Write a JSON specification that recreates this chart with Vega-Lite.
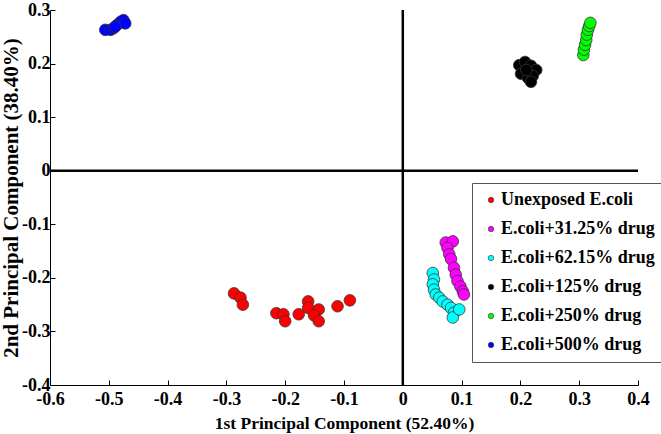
{
  "$schema": "https://vega.github.io/schema/vega-lite/v6.json",
  "width": 588,
  "height": 375,
  "autosize": {"type": "none"},
  "padding": {"left": 50, "top": 10, "right": 23, "bottom": 49},
  "background": "white",
  "config": {
    "view": {"stroke": null},
    "locale": {"number": {"decimal": ".", "thousands": ",", "grouping": [3], "currency": ["$", ""], "minus": "-"}},
    "axis": {
      "grid": false,
      "domainColor": "black",
      "domainWidth": 1,
      "tickColor": "black",
      "tickSize": -5,
      "labelFont": "Liberation Serif",
      "labelFontWeight": "bold",
      "labelFontSize": 18,
      "labelColor": "black",
      "labelOverlap": false,
      "labelBound": false,
      "labelFlush": false,
      "titleFont": "Liberation Serif",
      "titleFontWeight": "bold",
      "titleColor": "black"
    },
    "legend": {
      "labelFont": "Liberation Serif",
      "labelFontWeight": "bold",
      "labelFontSize": 18,
      "labelColor": "black"
    }
  },
  "data": {
    "values": [
      {"x": -0.287, "y": -0.229, "group": "Unexposed E.coli"},
      {"x": -0.276, "y": -0.237, "group": "Unexposed E.coli"},
      {"x": -0.272, "y": -0.250, "group": "Unexposed E.coli"},
      {"x": -0.215, "y": -0.266, "group": "Unexposed E.coli"},
      {"x": -0.203, "y": -0.268, "group": "Unexposed E.coli"},
      {"x": -0.200, "y": -0.281, "group": "Unexposed E.coli"},
      {"x": -0.177, "y": -0.268, "group": "Unexposed E.coli"},
      {"x": -0.161, "y": -0.244, "group": "Unexposed E.coli"},
      {"x": -0.161, "y": -0.256, "group": "Unexposed E.coli"},
      {"x": -0.143, "y": -0.259, "group": "Unexposed E.coli"},
      {"x": -0.151, "y": -0.270, "group": "Unexposed E.coli"},
      {"x": -0.143, "y": -0.281, "group": "Unexposed E.coli"},
      {"x": -0.111, "y": -0.253, "group": "Unexposed E.coli"},
      {"x": -0.090, "y": -0.242, "group": "Unexposed E.coli"},
      {"x": 0.073, "y": -0.134, "group": "E.coli+31.25% drug"},
      {"x": 0.085, "y": -0.132, "group": "E.coli+31.25% drug"},
      {"x": 0.076, "y": -0.144, "group": "E.coli+31.25% drug"},
      {"x": 0.079, "y": -0.156, "group": "E.coli+31.25% drug"},
      {"x": 0.082, "y": -0.165, "group": "E.coli+31.25% drug"},
      {"x": 0.087, "y": -0.181, "group": "E.coli+31.25% drug"},
      {"x": 0.090, "y": -0.194, "group": "E.coli+31.25% drug"},
      {"x": 0.093, "y": -0.206, "group": "E.coli+31.25% drug"},
      {"x": 0.098, "y": -0.216, "group": "E.coli+31.25% drug"},
      {"x": 0.102, "y": -0.225, "group": "E.coli+31.25% drug"},
      {"x": 0.104, "y": -0.231, "group": "E.coli+31.25% drug"},
      {"x": 0.051, "y": -0.191, "group": "E.coli+62.15% drug"},
      {"x": 0.053, "y": -0.203, "group": "E.coli+62.15% drug"},
      {"x": 0.051, "y": -0.212, "group": "E.coli+62.15% drug"},
      {"x": 0.053, "y": -0.222, "group": "E.coli+62.15% drug"},
      {"x": 0.056, "y": -0.231, "group": "E.coli+62.15% drug"},
      {"x": 0.062, "y": -0.237, "group": "E.coli+62.15% drug"},
      {"x": 0.068, "y": -0.244, "group": "E.coli+62.15% drug"},
      {"x": 0.076, "y": -0.250, "group": "E.coli+62.15% drug"},
      {"x": 0.082, "y": -0.256, "group": "E.coli+62.15% drug"},
      {"x": 0.087, "y": -0.265, "group": "E.coli+62.15% drug"},
      {"x": 0.085, "y": -0.274, "group": "E.coli+62.15% drug"},
      {"x": 0.096, "y": -0.259, "group": "E.coli+62.15% drug"},
      {"x": 0.198, "y": 0.197, "group": "E.coli+125% drug"},
      {"x": 0.208, "y": 0.203, "group": "E.coli+125% drug"},
      {"x": 0.218, "y": 0.196, "group": "E.coli+125% drug"},
      {"x": 0.227, "y": 0.188, "group": "E.coli+125% drug"},
      {"x": 0.201, "y": 0.181, "group": "E.coli+125% drug"},
      {"x": 0.213, "y": 0.173, "group": "E.coli+125% drug"},
      {"x": 0.221, "y": 0.177, "group": "E.coli+125% drug"},
      {"x": 0.210, "y": 0.188, "group": "E.coli+125% drug"},
      {"x": 0.218, "y": 0.166, "group": "E.coli+125% drug"},
      {"x": 0.307, "y": 0.216, "group": "E.coli+250% drug"},
      {"x": 0.308, "y": 0.226, "group": "E.coli+250% drug"},
      {"x": 0.310, "y": 0.235, "group": "E.coli+250% drug"},
      {"x": 0.312, "y": 0.244, "group": "E.coli+250% drug"},
      {"x": 0.313, "y": 0.254, "group": "E.coli+250% drug"},
      {"x": 0.315, "y": 0.263, "group": "E.coli+250% drug"},
      {"x": 0.317, "y": 0.270, "group": "E.coli+250% drug"},
      {"x": 0.319, "y": 0.276, "group": "E.coli+250% drug"},
      {"x": -0.506, "y": 0.263, "group": "E.coli+500% drug"},
      {"x": -0.497, "y": 0.263, "group": "E.coli+500% drug"},
      {"x": -0.492, "y": 0.266, "group": "E.coli+500% drug"},
      {"x": -0.486, "y": 0.272, "group": "E.coli+500% drug"},
      {"x": -0.480, "y": 0.278, "group": "E.coli+500% drug"},
      {"x": -0.475, "y": 0.281, "group": "E.coli+500% drug"},
      {"x": -0.472, "y": 0.275, "group": "E.coli+500% drug"},
      {"x": -0.489, "y": 0.269, "group": "E.coli+500% drug"}
    ]
  },
  "layer": [
    {
      "data": {"values": [{"zero": 0}]},
      "mark": {"type": "rule", "color": "black", "strokeWidth": 2.5},
      "encoding": {"y": {"field": "zero", "type": "quantitative"}}
    },
    {
      "data": {"values": [{"zero": 0}]},
      "mark": {"type": "rule", "color": "black", "strokeWidth": 2.5},
      "encoding": {"x": {"field": "zero", "type": "quantitative"}}
    },
    {
      "mark": {"type": "point", "filled": true, "shape": "circle", "size": 135, "opacity": 1, "stroke": "#333333", "strokeWidth": 0.8},
      "encoding": {
        "x": {
          "field": "x", "type": "quantitative",
          "scale": {"domain": [-0.6, 0.4], "nice": false, "zero": false},
          "axis": {
            "values": [-0.6, -0.5, -0.4, -0.3, -0.2, -0.1, 0, 0.1, 0.2, 0.3, 0.4],
            "format": ".1~f",
            "labelPadding": 10,
            "title": "1st Principal Component (52.40%)",
            "titleFontSize": 17.5,
            "titlePadding": 6
          }
        },
        "y": {
          "field": "y", "type": "quantitative",
          "scale": {"domain": [-0.4, 0.3], "nice": false, "zero": false},
          "axis": {
            "values": [-0.4, -0.3, -0.2, -0.1, 0, 0.1, 0.2, 0.3],
            "format": ".1~f",
            "labelPadding": 5,
            "title": "2nd Principal Component (38.40%)",
            "titleFontSize": 21,
            "titlePadding": 0
          }
        },
        "color": {
          "field": "group", "type": "nominal",
          "scale": {
            "domain": ["Unexposed E.coli", "E.coli+31.25% drug", "E.coli+62.15% drug", "E.coli+125% drug", "E.coli+250% drug", "E.coli+500% drug"],
            "range": ["#ff0000", "#ff00ff", "#00ffff", "#000000", "#00ff00", "#0000ff"]
          },
          "legend": {
            "title": null,
            "orient": "none",
            "legendX": 422,
            "legendY": 173,
            "fillColor": "white",
            "strokeColor": "#555555",
            "padding": 8,
            "symbolSize": 30,
            "symbolStrokeColor": "#333333",
            "symbolStrokeWidth": 0.6,
            "symbolOffset": 2,
            "labelOffset": 1,
            "rowPadding": 11
          }
        }
      }
    }
  ]
}
